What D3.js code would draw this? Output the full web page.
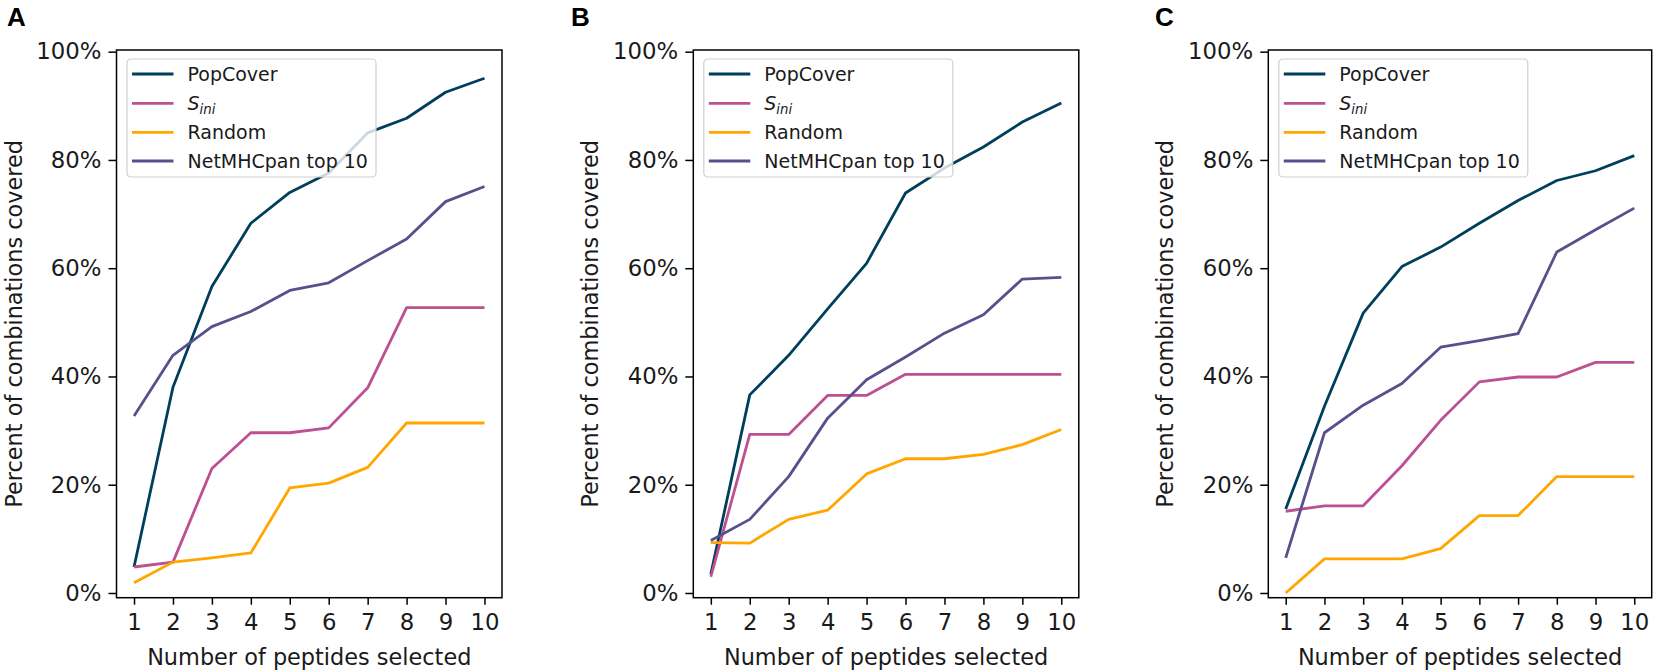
<!DOCTYPE html>
<html>
<head>
<meta charset="utf-8">
<script src="https://cdn.jsdelivr.net/npm/d3@7"></script>
<style>
  html, body { margin: 0; padding: 0; background: #ffffff; }
  svg { display: block; font-family: "DejaVu Sans", sans-serif; }
</style>
</head>
<body>
<svg id="chart" width="1654" height="670"></svg>
<script>
// ---------- data ----------
const steps = [1, 2, 3, 4, 5, 6, 7, 8, 9, 10];
const yTickValues = [0, 0.2, 0.4, 0.6, 0.8, 1.0];
const yTickLabels = ["0%", "20%", "40%", "60%", "80%", "100%"];
const panelLetters = ["A", "B", "C"];
const seriesNames = ["PopCover", "Sini", "Random", "NetMHCpan top 10"];
const seriesColors = ["#003f5c", "#bc5090", "#ffa600", "#58508d"];

// percent values, panel A
const popCoverA = [4.8, 38.0, 56.6, 68.3, 74.0, 77.6, 85.0, 87.7, 92.5, 95.1];
const siniA     = [4.8, 5.7, 23.0, 29.6, 29.6, 30.5, 37.9, 52.7, 52.7, 52.7];
const randomA   = [1.9, 5.7, 6.5, 7.4, 19.4, 20.3, 23.2, 31.4, 31.4, 31.4];
const netMHCA   = [32.7, 43.9, 49.2, 52.0, 55.9, 57.3, 61.4, 65.4, 72.3, 75.1];
// panel B
const popCoverB = [3.5, 36.6, 43.9, 52.5, 60.9, 73.9, 78.5, 82.4, 87.0, 90.5];
const siniB     = [3.0, 29.3, 29.3, 36.5, 36.5, 40.4, 40.4, 40.4, 40.4, 40.4];
const randomB   = [9.3, 9.2, 13.6, 15.3, 22.0, 24.8, 24.8, 25.6, 27.4, 30.2];
const netMHCB   = [9.7, 13.6, 21.5, 32.3, 39.4, 43.6, 48.0, 51.4, 58.0, 58.3];
// panel C
const popCoverC = [15.5, 34.5, 51.7, 60.3, 63.9, 68.3, 72.5, 76.2, 78.0, 80.8];
const siniC     = [15.1, 16.1, 16.1, 23.5, 31.9, 39.0, 39.9, 39.9, 42.6, 42.6];
const randomC   = [0.0, 6.3, 6.3, 6.3, 8.2, 14.3, 14.3, 21.5, 21.5, 21.5];
const netMHCC   = [6.5, 29.6, 34.7, 38.7, 45.4, 46.6, 47.9, 63.0, 67.1, 71.1];

const panelSeries = [
  [popCoverA, siniA, randomA, netMHCA],
  [popCoverB, siniB, randomB, netMHCB],
  [popCoverC, siniC, randomC, netMHCC]
];

// ---------- layout ----------
const panelBoxes = [
  { left: 116.5, right: 502.0 },
  { left: 693.3, right: 1078.8 },
  { left: 1268.3, right: 1651.7 }
];
const letterX = [7, 571, 1155];
const plotTop = 50, plotBottom = 597.7;
const tickFont = 22.8, labelFont = 22.4, legendFont = 19;
const lineW = 2.8, spineW = 1.5;

const svg = d3.select("#chart");

panelBoxes.forEach((box, pi) => {
  const x = d3.scaleLinear().domain([0.55, 10.45]).range([box.left, box.right]);
  const y = d3.scaleLinear().domain([-0.0087, 1.0031]).range([plotBottom, plotTop]);
  const g = svg.append("g");

  // series lines
  const line = d3.line().x((d, i) => x(steps[i])).y(d => y(d / 100));
  panelSeries[pi].forEach((vals, si) => {
    g.append("path").datum(vals)
      .attr("d", line)
      .attr("fill", "none")
      .attr("stroke", seriesColors[si])
      .attr("stroke-width", lineW)
      .attr("stroke-linejoin", "round")
      .attr("stroke-linecap", "butt");
  });

  // x axis
  const xAxis = d3.axisBottom(x).tickValues(steps).tickFormat(d3.format("d"))
    .tickSize(7).tickSizeOuter(0).tickPadding(9);
  const gx = g.append("g").attr("transform", `translate(0,${plotBottom})`).call(xAxis);
  gx.select(".domain").remove();
  gx.selectAll(".tick line").attr("stroke", "#000").attr("stroke-width", spineW);
  gx.selectAll(".tick text").attr("font-size", tickFont).attr("fill", "#1a1a1a")
    .attr("font-family", "DejaVu Sans");

  // y axis
  const yAxis = d3.axisLeft(y).tickValues(yTickValues)
    .tickFormat((d, i) => yTickLabels[i]).tickSize(8).tickSizeOuter(0).tickPadding(7);
  const gy = g.append("g").attr("transform", `translate(${box.left},0)`).call(yAxis);
  gy.select(".domain").remove();
  gy.selectAll(".tick line").attr("stroke", "#000").attr("stroke-width", spineW);
  gy.selectAll(".tick text").attr("font-size", tickFont).attr("fill", "#1a1a1a")
    .attr("font-family", "DejaVu Sans");

  // frame
  g.append("rect")
    .attr("x", box.left).attr("y", plotTop)
    .attr("width", box.right - box.left).attr("height", plotBottom - plotTop)
    .attr("fill", "none").attr("stroke", "#000").attr("stroke-width", spineW);

  // axis labels
  g.append("text")
    .attr("x", (box.left + box.right) / 2).attr("y", 665)
    .attr("text-anchor", "middle").attr("font-size", labelFont).attr("fill", "#1a1a1a")
    .text("Number of peptides selected");
  g.append("text")
    .attr("transform", `translate(${box.left - 95},${(plotTop + plotBottom) / 2}) rotate(-90)`)
    .attr("text-anchor", "middle").attr("font-size", labelFont).attr("fill", "#1a1a1a")
    .text("Percent of combinations covered");

  // panel letter
  svg.append("text")
    .attr("x", letterX[pi]).attr("y", 26)
    .attr("font-family", "Liberation Sans, Arial, sans-serif")
    .attr("font-weight", "bold").attr("font-size", 26).attr("fill", "#000")
    .text(panelLetters[pi]);

  // legend
  const lg = g.append("g").attr("transform", `translate(${box.left + 10.5},59)`);
  lg.append("rect").attr("x", 0).attr("y", 0).attr("width", 249).attr("height", 118)
    .attr("rx", 4).attr("ry", 4)
    .attr("fill", "#ffffff").attr("fill-opacity", 0.8)
    .attr("stroke", "#d0d0d0").attr("stroke-width", 1.2);
  const rowY = [15, 44.3, 73.3, 102];
  seriesNames.forEach((name, si) => {
    lg.append("line").attr("x1", 5).attr("x2", 46.5)
      .attr("y1", rowY[si]).attr("y2", rowY[si])
      .attr("stroke", seriesColors[si]).attr("stroke-width", lineW);
    const t = lg.append("text").attr("x", 60.5).attr("y", rowY[si] + 6.8)
      .attr("font-size", legendFont).attr("fill", "#1a1a1a");
    if (name === "Sini") {
      t.append("tspan").attr("font-style", "italic").text("S");
      t.append("tspan").attr("font-style", "italic").attr("font-size", legendFont * 0.7)
        .attr("dy", 4).text("ini");
    } else {
      t.text(name);
    }
  });
});
</script>
</body>
</html>
